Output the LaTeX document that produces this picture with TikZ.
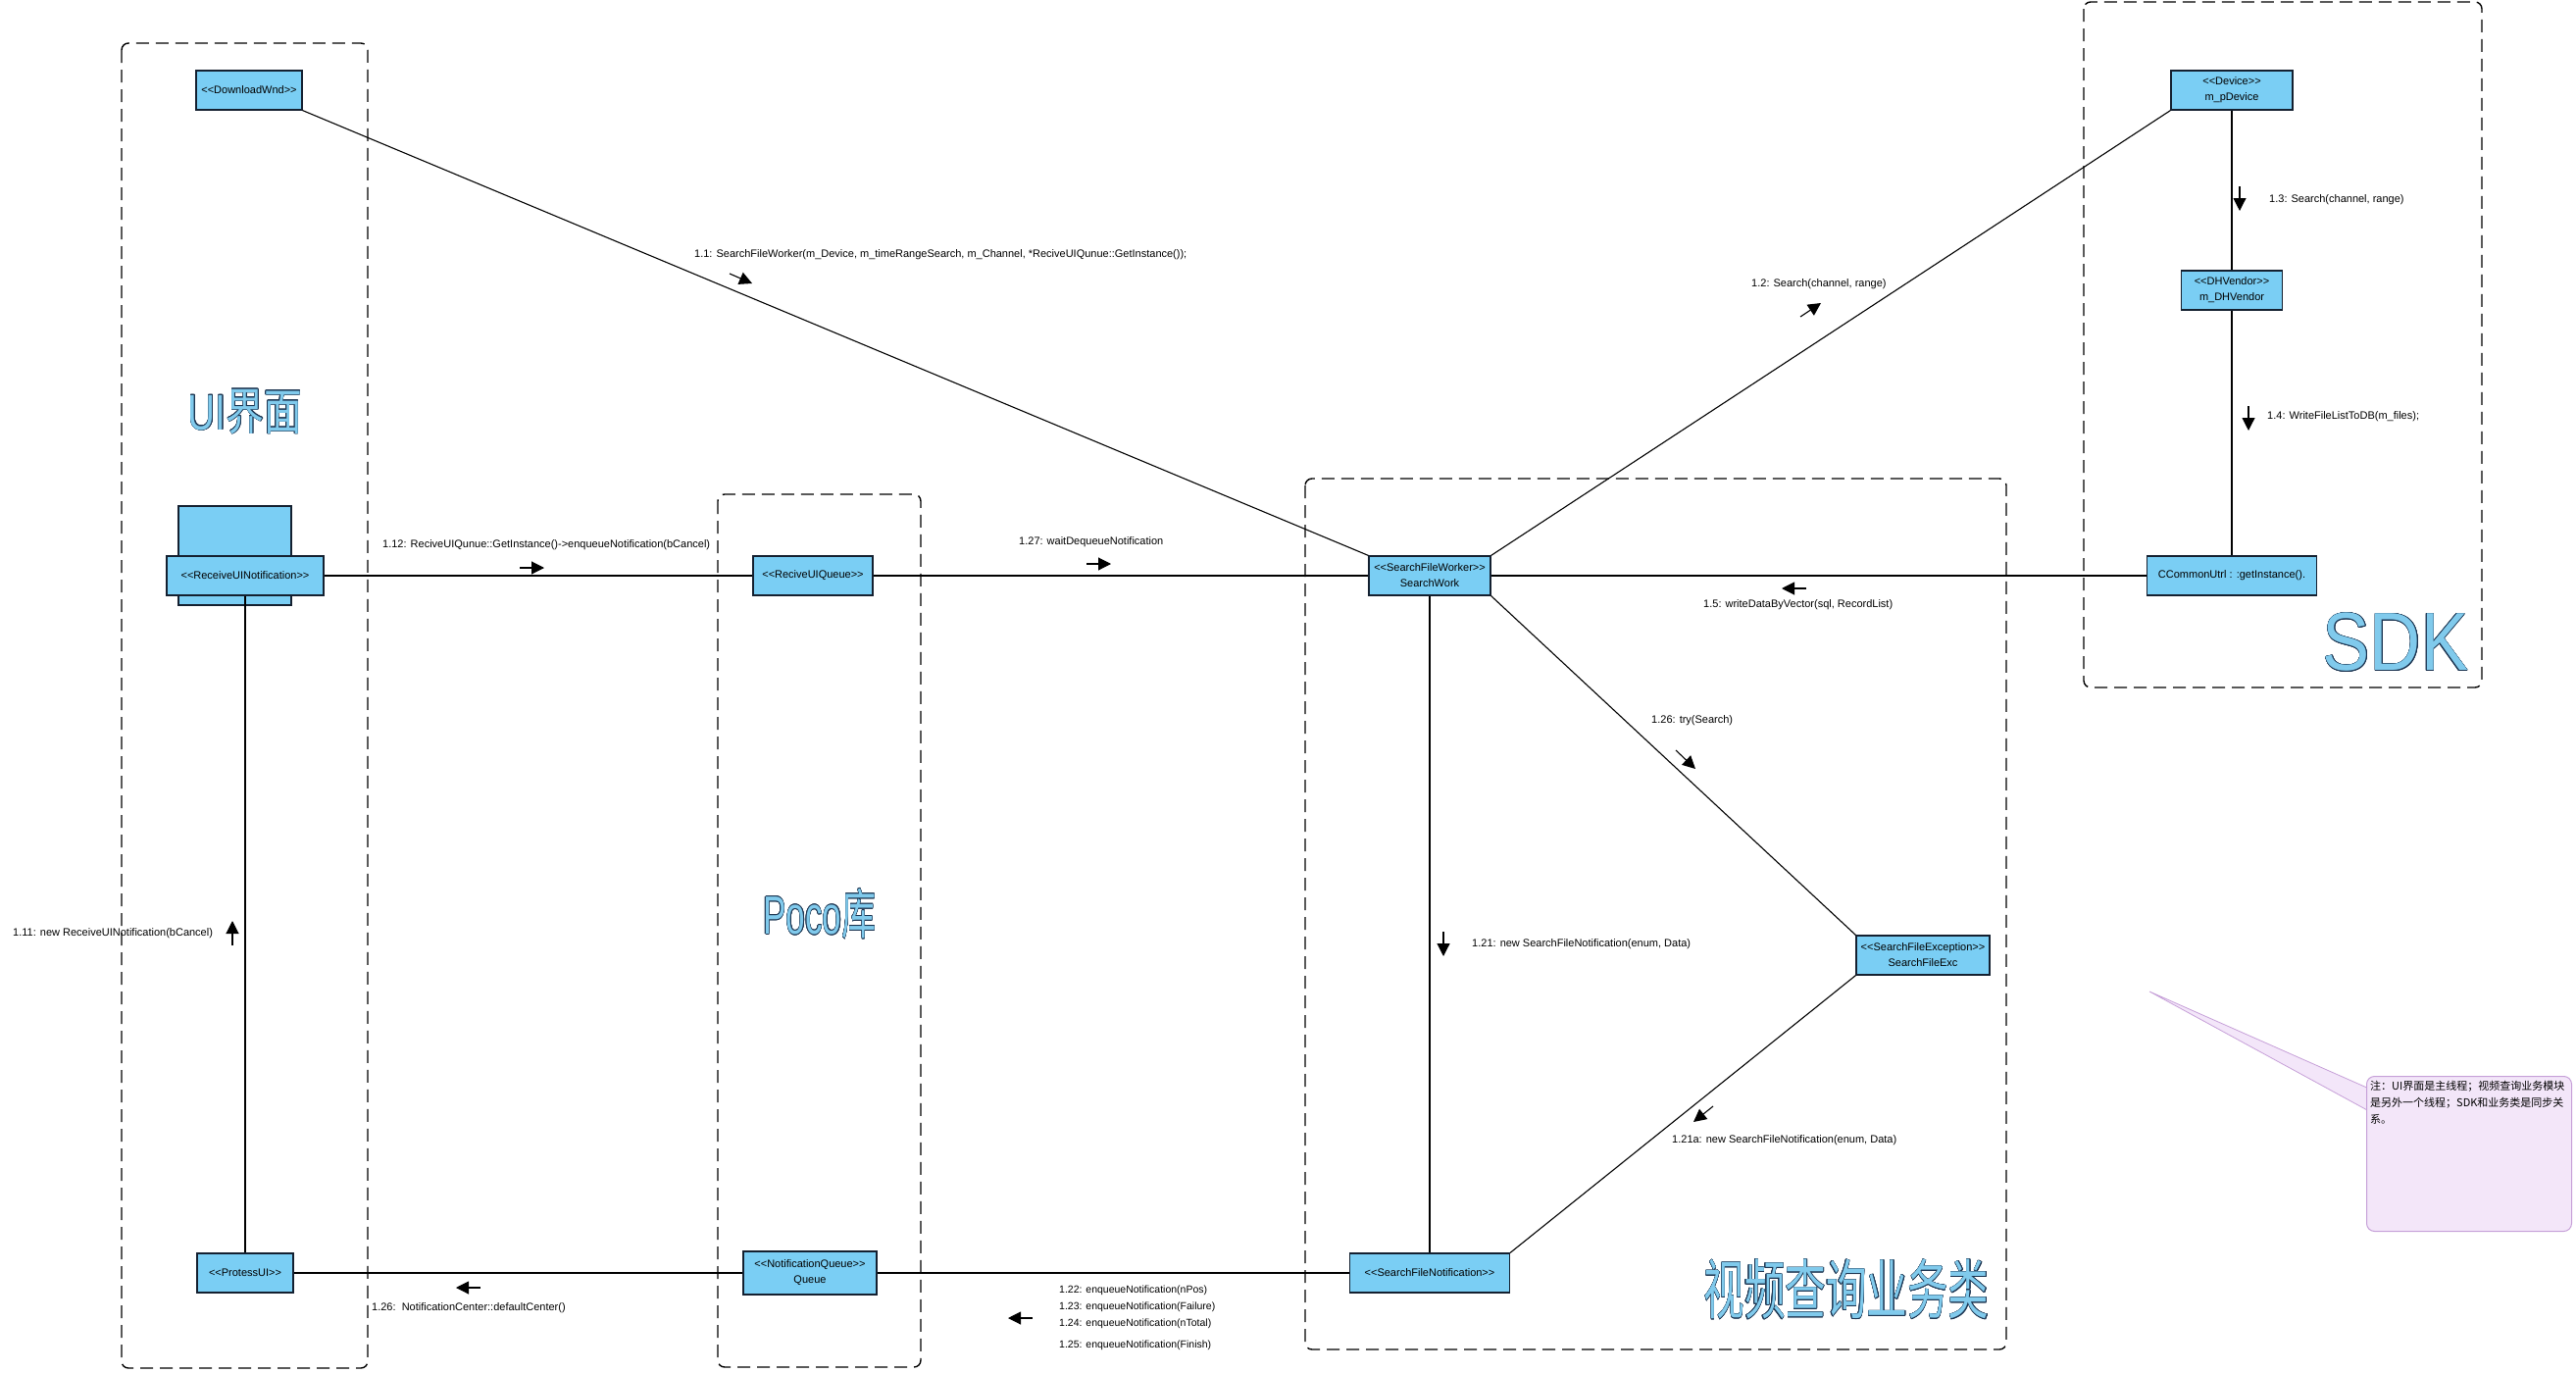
\documentclass[tikz,border=0pt]{standalone}
\usepackage{fontspec}
\setmainfont{Liberation Sans}
\newfontfamily\cjk{Noto Sans CJK SC}
\usepackage[copies]{contour}
\usetikzlibrary{arrows.meta,calc,positioning}

\definecolor{objfill}{RGB}{122,206,244}
\definecolor{objdraw}{RGB}{20,32,48}
\definecolor{notefill}{RGB}{243,230,249}
\definecolor{notedraw}{RGB}{198,160,216}
\definecolor{titlefill}{RGB}{128,202,236}
\definecolor{titledraw}{RGB}{28,52,80}

\newcommand{\stype}[1]{<\kern0pt<#1>\kern0pt>}
\contourlength{0.6pt}

\tikzset{
  obj/.style={draw=objdraw, fill=objfill, line width=1.2pt, minimum height=40pt, inner sep=1pt, align=center, font=\fontsize{11}{16}\selectfont},
  conn/.style={line width=1.1pt},
  zone/.style={draw, line width=1.4pt, dash pattern=on 13pt off 7pt, rounded corners=7pt},
  msg/.style={line width=1.1pt, -{Triangle[length=13pt,width=13pt]}},
  lbl/.style={anchor=west, inner sep=0pt, font=\fontsize{11}{13}\selectfont},
  smalllbl/.style={anchor=west, inner sep=0pt, font=\fontsize{10.5}{12}\selectfont},
  title/.style={text=titlefill, inner sep=0pt},
}

\begin{document}
\begin{tikzpicture}[x=1pt, y=-1pt]
\useasboundingbox (0,0) rectangle (2627,1400);

% dashed groups
\draw[zone] (124,44) rectangle (375,1395);
\draw[zone] (732,504) rectangle (939,1394);
\draw[zone] (1331,488) rectangle (2046,1376);
\draw[zone] (2125,2) rectangle (2531,701);

% group titles
\node[title] (uititle) at (250,420) {\scalebox{0.76}[1]{\contour{titledraw}{\fontsize{51}{51}\selectfont UI{\cjk 界面}}}};
\node[title] (pocotitle) at (836,932) {\scalebox{0.64}[1]{\contour{titledraw}{\fontsize{55}{55}\selectfont Poco{\cjk 库}}}};
\node[title] (sdktitle) at (2443,655) {\scalebox{0.86}[1]{\contour{titledraw}{\fontsize{84}{84}\selectfont SDK}}};
\node[title] (bizttitle) at (1883,1315) {\scalebox{0.63}[1]{\contour{titledraw}{\fontsize{66}{66}\selectfont\cjk 视频查询业务类}}};

% objects
\node[obj, minimum width=115pt, minimum height=101pt] (rnback) at (239.5,566.5) {};
\node[obj, minimum width=108pt] (dw) at (254,92) {\stype{DownloadWnd}};
\node[obj, minimum width=160pt] (rn) at (250,587) {\stype{ReceiveUINotification}};
\node[obj, minimum width=122pt] (rq) at (829,587) {\stype{ReciveUIQueue}};
\node[obj, minimum width=124pt] (sw) at (1458,587) {\stype{SearchFileWorker}\\SearchWork};
\node[obj, minimum width=124pt] (dev) at (2276,92) {\stype{Device}\\m\_pDevice};
\node[obj, minimum width=103pt] (dhv) at (2276,296) {\stype{DHVendor}\\m\_DHVendor};
\node[obj, minimum width=173pt] (cu) at (2276,587) {CCommonUtrl : :getInstance().};
\node[obj, minimum width=136pt] (sfe) at (1961,974) {\stype{SearchFileException}\\SearchFileExc};
\node[obj, minimum width=163pt] (sfn) at (1458,1298) {\stype{SearchFileNotification}};
\node[obj, minimum width=136pt, minimum height=44pt] (nq) at (826,1298) {\stype{NotificationQueue}\\Queue};
\node[obj, minimum width=98pt] (pu) at (250,1298) {\stype{ProtessUI}};

% links
\draw[conn] (dw.south east) -- (sw.north west);
\draw[conn] (rn) -- (rq);
\draw[conn] (rq) -- (sw);
\draw[conn] (sw) -- (cu);
\draw[conn] (sw.north east) -- (dev.south west);
\draw[conn] (dev) -- (dhv);
\draw[conn] (dhv) -- (cu);
\draw[conn] (sw.south east) -- (sfe.north west);
\draw[conn] (sfe.south west) -- (sfn.north east);
\draw[conn] (sw) -- (sfn);
\draw[conn] (sfn) -- (nq);
\draw[conn] (nq) -- (pu);
\draw[conn] (rn) -- (pu);

% messages
\node[lbl] (m11) at (708,260) {1.1: SearchFileWorker(m\_Device, m\_timeRangeSearch, m\_Channel, *ReciveUIQunue::GetInstance());};
\draw[msg] (744,279) -- (767,289);
\node[lbl] (m112) at (390,556) {1.12: ReciveUIQunue::GetInstance()->enqueueNotification(bCancel)};
\draw[msg] (530,579) -- (555,579);
\node[lbl] (m127) at (1039,553) {1.27: waitDequeueNotification};
\draw[msg] (1108,575) -- (1133,575);
\node[lbl] (m12) at (1786,290) {1.2: Search(channel, range)};
\draw[msg] (1836,323) -- (1857,309);
\node[lbl] (m13) at (2314,204) {1.3: Search(channel, range)};
\draw[msg] (2284,190) -- (2284,215);
\node[lbl] (m14) at (2312,425) {1.4: WriteFileListToDB(m\_files);};
\draw[msg] (2293,414) -- (2293,439);
\node[lbl] (m15) at (1737,617) {1.5: writeDataByVector(sql, RecordList)};
\draw[msg] (1842,600) -- (1817,600);
\node[lbl] (m126) at (1684,735) {1.26: try(Search)};
\draw[msg] (1709,765) -- (1729,784);
\node[lbl] (m121) at (1501,963) {1.21: new SearchFileNotification(enum, Data)};
\draw[msg] (1472,950) -- (1472,975);
\node[lbl] (m121a) at (1705,1163) {1.21a: new SearchFileNotification(enum, Data)};
\draw[msg] (1747,1128) -- (1727,1144);
\node[smalllbl] (m122) at (1080,1316) {1.22: enqueueNotification(nPos)};
\node[smalllbl] (m123) at (1080,1333) {1.23: enqueueNotification(Failure)};
\node[smalllbl] (m124) at (1080,1350) {1.24: enqueueNotification(nTotal)};
\node[smalllbl] (m125) at (1080,1372) {1.25: enqueueNotification(Finish)};
\draw[msg] (1053,1344) -- (1028,1344);
\node[lbl] (m126b) at (379,1334) {1.26:\ \ NotificationCenter::defaultCenter()};
\draw[msg] (490,1313) -- (465,1313);
\node[lbl] (m111) at (13,952) {1.11: new ReceiveUINotification(bCancel)};
\draw[msg] (237,964) -- (237,939);

% note
\coordinate (notetip) at (2192,1011);
\filldraw[fill=notefill, draw=notedraw, line width=0.8pt] (notetip) -- (2416,1110) -- (2416,1133) -- cycle;
\node[draw=notedraw, fill=notefill, rounded corners=8pt, line width=1pt, minimum width=209pt, minimum height=158pt, anchor=north west] (note) at (2413,1097) {};
\node[anchor=north west, inner sep=0pt, align=left, font=\cjk\fontsize{11}{17}\selectfont] (notetext) at (2417,1102) {注：UI界面是主线程；视频查询业务模块\\是另外一个线程；SDK和业务类是同步关\\系。};
\end{tikzpicture}
\end{document}
